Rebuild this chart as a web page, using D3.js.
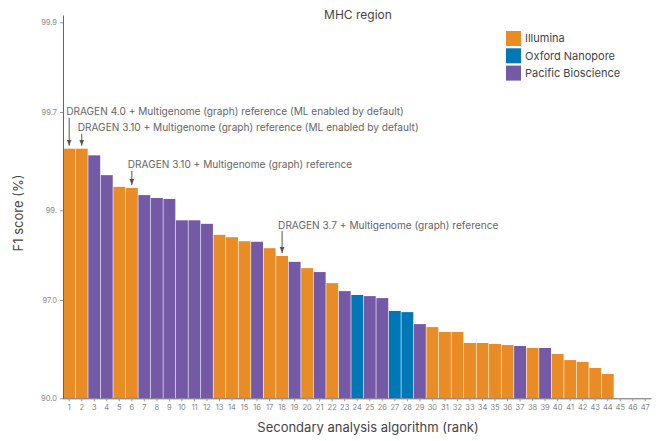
<!DOCTYPE html>
<html lang="en">
<head>
<meta charset="UTF-8">
<title>MHC region</title>
<script src="https://cdn.jsdelivr.net/npm/d3@7"></script>
<style>
  body { margin: 0; background: #fff; }
  text { font-family: Inter, "Noto Sans", sans-serif; }
</style>
</head>
<body>
<script>
// ranks 1..47, F1 score (%) per rank (45-47 have no bar)
var ranks = d3.range(1, 48);
var f1 = [99.53, 99.53, 99.49, 99.35, 99.25, 99.24, 99.17, 99.14, 99.13, 98.87,
          98.87, 98.82, 98.65, 98.61, 98.54, 98.53, 98.41, 98.25, 98.12, 97.97,
          97.87, 97.56, 97.31, 97.18, 97.14, 97.07, 96.57, 96.52, 95.97, 95.82,
          95.56, 95.56, 94.92, 94.92, 94.86, 94.79, 94.73, 94.60, 94.60, 94.19,
          93.74, 93.59, 93.10, 92.58];
var platform = ["I","I","P","P","I","I","P","P","P","P",
                "P","P","I","I","I","P","I","I","P","I",
                "P","I","P","O","P","P","O","O","P","I",
                "I","I","I","I","I","I","P","I","P","I",
                "I","I","I","I"];
var legendKeys = ["I", "O", "P"];
var legendNames = ["Illumina", "Oxford Nanopore", "Pacific Bioscience"];
var yTicks = [90.0, 97.0, 99.0, 99.7, 99.9];
var yTickLabels = ["90.0", "97.0", "99.", "99.7", "99.9"];
var annoText = [
  "DRAGEN 4.0 + Multigenome (graph) reference (ML enabled by default)",
  "DRAGEN 3.10 + Multigenome (graph) reference (ML enabled by default)",
  "DRAGEN 3.10 + Multigenome (graph) reference",
  "DRAGEN 3.7 + Multigenome (graph) reference"
];
var annoRank = [1, 2, 6, 18];

// layout
var width = 659, height = 441;
var colors = { I: "#EA8C25", O: "#0077B7", P: "#7459A7" };
var annoLift = [37, 21, 23, 31];
var annoDx = [-3, -4, -4, -4];

var svg = d3.select("body").append("svg")
  .attr("width", width)
  .attr("height", height);

var x = d3.scaleBand()
  .domain(ranks)
  .range([63, 651.5])
  .paddingInner(0.05)
  .paddingOuter(0.02);

// log scale on the error (100 - F1)
var yErr = d3.scaleLog().domain([10, 0.0914]).range([398.3, 15]);
var y = function(v) { return yErr(100 - v); };

var bars = f1.map(function(v, i) { return { rank: ranks[i], f1: v, p: platform[i] }; });

svg.append("g").selectAll("rect")
  .data(bars)
  .enter()
  .append("rect")
  .attr("x", function(d) { return x(d.rank); })
  .attr("width", x.bandwidth())
  .attr("y", function(d) { return y(d.f1); })
  .attr("height", function(d) { return y(90) - y(d.f1); })
  .attr("fill", function(d) { return colors[d.p]; });

// axes
var xAxis = svg.append("g")
  .attr("transform", "translate(0," + y(90) + ")")
  .call(d3.axisBottom(x).tickSize(3).tickSizeOuter(0).tickPadding(3));
xAxis.selectAll("text").attr("fill", "#888").style("font-size", "7.5px");
xAxis.selectAll("line").attr("stroke", "#999");
xAxis.select(".domain").attr("stroke", "#666").attr("d", "M63,0.5H651.5");

var yAxis = svg.append("g")
  .attr("transform", "translate(63,0)")
  .call(d3.axisLeft(yErr)
    .tickValues(yTicks.map(function(v) { return 100 - v; }))
    .tickFormat(function(d, i) { return yTickLabels[i]; })
    .tickSize(3).tickSizeOuter(0).tickPadding(3));
yAxis.selectAll("text").attr("fill", "#888").style("font-size", "7.5px");
yAxis.selectAll("line").attr("stroke", "#999");
yAxis.select(".domain").attr("stroke", "#666");

// titles
svg.append("text")
  .attr("x", 358).attr("y", 19)
  .attr("text-anchor", "middle")
  .attr("fill", "#444")
  .style("font-size", "12px")
  .text("MHC region");

svg.append("text")
  .attr("x", 368).attr("y", 432)
  .attr("text-anchor", "middle")
  .attr("fill", "#444")
  .style("font-size", "13px")
  .text("Secondary analysis algorithm (rank)");

svg.append("text")
  .attr("transform", "translate(23,213) rotate(-90)")
  .attr("text-anchor", "middle")
  .attr("fill", "#444")
  .style("font-size", "13px")
  .text("F1 score (%)");

// annotations
svg.append("defs").append("marker")
  .attr("id", "arr")
  .attr("viewBox", "0 0 10 10")
  .attr("refX", 10).attr("refY", 5)
  .attr("markerWidth", 6).attr("markerHeight", 6)
  .attr("orient", "auto")
  .append("path")
  .attr("d", "M0,1L10,5L0,9Z")
  .attr("fill", "#555");

annoText.forEach(function(t, i) {
  var r = annoRank[i];
  var cx = x(r) + x.bandwidth() / 2;
  var top = y(f1[ranks.indexOf(r)]);
  var ty = top - annoLift[i];
  svg.append("text")
    .attr("x", cx + annoDx[i]).attr("y", ty)
    .attr("dy", "0.35em")
    .attr("fill", "#666")
    .style("font-size", "10.1px")
    .text(t);
  svg.append("line")
    .attr("x1", cx).attr("x2", cx)
    .attr("y1", ty + 6).attr("y2", top - 3)
    .attr("stroke", "#555")
    .attr("stroke-width", 1)
    .attr("marker-end", "url(#arr)");
});

// legend
var leg = svg.append("g").attr("transform", "translate(506,31)");
legendKeys.forEach(function(k, i) {
  leg.append("rect")
    .attr("x", 0).attr("y", i * 17.3)
    .attr("width", 15).attr("height", 15)
    .attr("fill", colors[k]);
  leg.append("text")
    .attr("x", 19).attr("y", i * 17.3 + 7.5)
    .attr("dy", "0.35em")
    .attr("fill", "#444")
    .style("font-size", "11px")
    .text(legendNames[i]);
});
</script>
</body>
</html>
